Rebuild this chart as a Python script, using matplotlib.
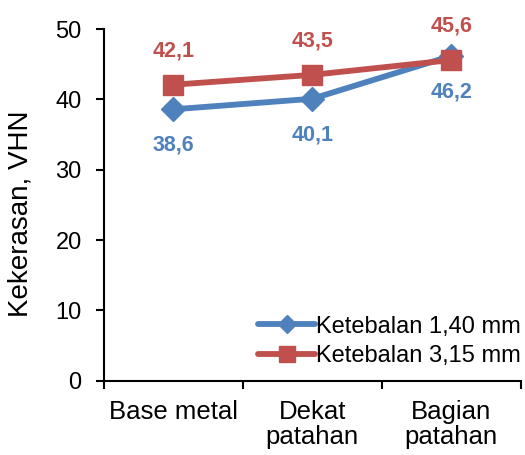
import numpy as np
import matplotlib.pyplot as plt

plt.rcParams['font.family'] = ['Liberation Sans', 'DejaVu Sans']

categories = ["Base metal", "Dekat\npatahan", "Bagian\npatahan"]
tipis = [38.6, 40.1, 46.2]
tebal = [42.1, 43.5, 45.6]
label_tipis = "Ketebalan 1,40 mm"
label_tebal = "Ketebalan 3,15 mm"

blue = '#4F81BD'
red = '#C0504D'

fig = plt.figure(figsize=(5.25, 4.55), dpi=100)
ax = fig.add_axes([0.198, 0.163, 0.794, 0.773])

x = np.arange(len(categories))
ax.plot(x, tipis, color=blue, lw=4.2, marker='D', ms=12, label=label_tipis,
        solid_capstyle='round')
ax.plot(x, tebal, color=red, lw=4.2, marker='s', ms=15, label=label_tebal,
        solid_capstyle='round')

for xi, v in zip(x, tipis):
    ax.annotate(f"{v:.1f}".replace('.', ','), (xi, v), xytext=(0, -26),
                textcoords='offset points', ha='center', va='center',
                color=blue, fontsize=15.5, fontweight='bold')
for xi, v in zip(x, tebal):
    ax.annotate(f"{v:.1f}".replace('.', ','), (xi, v), xytext=(0, 24.5),
                textcoords='offset points', ha='center', va='center',
                color=red, fontsize=15.5, fontweight='bold')

ax.set_xlim(-0.5, 2.5)
ax.set_ylim(0, 50)
ax.set_yticks(range(0, 51, 10))
ax.set_xticks(x)
ax.set_xticklabels(categories, fontsize=18.5, linespacing=1.05)
ax.set_xticks(np.arange(-0.5, 2.6, 1), minor=True)
ax.tick_params(axis='x', which='major', length=0, pad=14)
ax.tick_params(axis='x', which='minor', length=6, width=1.5, direction='out')
ax.tick_params(axis='y', length=6, width=1.5, direction='out', labelsize=17, pad=10)

for s in ['top', 'right']:
    ax.spines[s].set_visible(False)
for s in ['left', 'bottom']:
    ax.spines[s].set_linewidth(1.5)

ax.set_ylabel("Kekerasan, VHN", fontsize=20)
ax.yaxis.set_label_coords(-0.17, 0.475)

ax.legend(loc='lower right', frameon=False, fontsize=17, handlelength=2.4,
          handletextpad=0.05, borderpad=0, borderaxespad=0, labelspacing=0.3,
          markerscale=0.75, bbox_to_anchor=(1.0, 0.04))

fig.savefig('out.png', dpi=100)
